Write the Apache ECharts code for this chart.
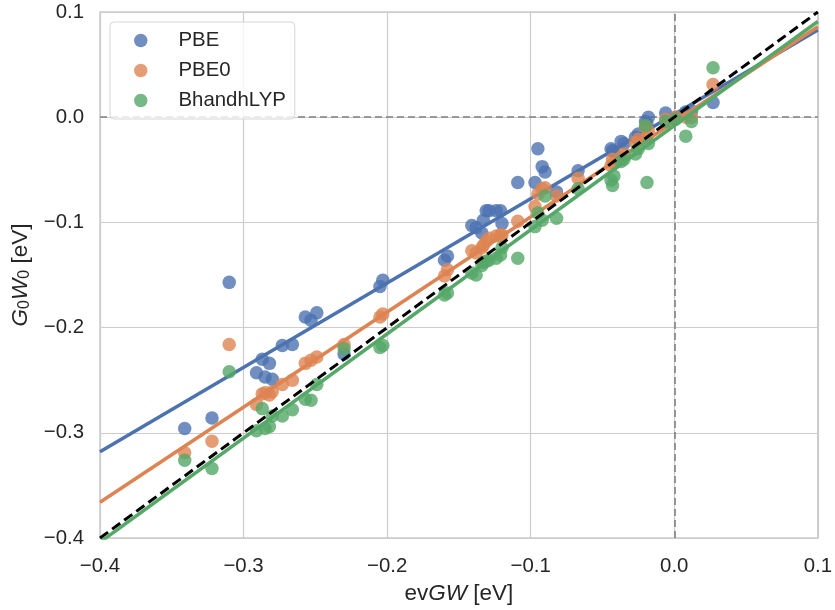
<!DOCTYPE html>
<html>
<head>
<meta charset="utf-8">
<script src="https://cdn.jsdelivr.net/npm/echarts@6/dist/echarts.min.js"></script>
<style>html,body{margin:0;padding:0;background:#fff}#c{width:835px;height:610px}</style>
</head>
<body>
<div id="c"></div>
<script>
// evGW values (shared x for all functionals)
const evgw = [-0.341,-0.322,-0.310,-0.291,-0.287,-0.285,-0.282,-0.280,-0.273,-0.266,
  -0.257,-0.253,-0.249,-0.230,-0.205,-0.203,-0.160,-0.158,-0.141,-0.138,
  -0.134,-0.133,-0.131,-0.129,-0.124,-0.121,-0.120,-0.109,-0.097,-0.095,
  -0.092,-0.090,-0.082,-0.067,-0.044,-0.043,-0.042,-0.037,-0.035,-0.027,
  -0.025,-0.020,-0.019,-0.018,-0.006,0.001,0.008,0.012,0.027];
const pbe = [-0.296,-0.286,-0.157,-0.243,-0.230,-0.247,-0.234,-0.249,-0.217,-0.216,
  -0.190,-0.193,-0.186,-0.225,-0.161,-0.155,-0.136,-0.132,-0.103,-0.105,
  -0.110,-0.098,-0.089,-0.089,-0.089,-0.089,-0.101,-0.062,-0.062,-0.030,
  -0.047,-0.052,-0.071,-0.051,-0.030,-0.032,-0.033,-0.023,-0.025,-0.019,
  -0.016,-0.004,-0.007,0.000,0.004,0.000,0.005,0.006,0.014];
const pbe0 = [-0.319,-0.308,-0.216,-0.273,-0.263,-0.262,-0.264,-0.261,-0.254,-0.250,
  -0.234,-0.231,-0.228,-0.216,-0.190,-0.187,-0.151,-0.145,-0.127,-0.129,
  -0.124,-0.122,-0.118,-0.115,-0.113,-0.112,-0.112,-0.099,-0.085,-0.073,
  -0.068,-0.067,-0.075,-0.058,-0.046,-0.040,-0.044,-0.038,-0.035,-0.024,
  -0.021,-0.009,-0.019,-0.013,-0.002,0.000,0.000,0.000,0.031];
const bhandhlyp = [-0.326,-0.334,-0.242,-0.298,-0.277,-0.296,-0.294,-0.284,-0.284,-0.278,
  -0.268,-0.269,-0.254,-0.220,-0.219,-0.217,-0.169,-0.167,-0.148,-0.150,
  -0.141,-0.138,-0.137,-0.136,-0.134,-0.131,-0.124,-0.134,-0.104,-0.091,
  -0.098,-0.075,-0.096,-0.068,-0.060,-0.065,-0.056,-0.042,-0.040,-0.035,
  -0.030,-0.008,-0.062,-0.025,-0.004,-0.002,-0.018,-0.004,0.047];
// regression lines: values at x=-0.4 and x=0.1
const fitX = [-0.4, 0.1];
const fitPBE = [-0.318, 0.083];
const fitPBE0 = [-0.366, 0.086];
const fitBH = [-0.404, 0.091];
const identity = [-0.4, 0.1];
const xTicks = [-0.4, 0.1, 0.1];   // min, max, interval
const yTicks = [-0.4, 0.1, 0.1];

const names = ['PBE','PBE0','BhandhLYP'];
const colors = ['#4C72B0','#DD8452','#55A868'];
const ys = [pbe, pbe0, bhandhlyp];
const fits = [fitPBE, fitPBE0, fitBH];
const FONT = 'Liberation Sans';
const TXT = '#262626';

function fmt(v){ if (Math.abs(v) < 1e-9) return '0.0'; return (v<0?'\u2212':'') + Math.abs(v).toFixed(1); }

const series = [];
names.forEach((n,i)=>{
  series.push({
    name: n, type: 'scatter', symbolSize: 13.5,
    itemStyle: {color: colors[i], opacity: 0.8},
    data: evgw.map((x,k)=>[x, ys[i][k]]),
    z: 3 + i*2
  });
  series.push({
    name: n + '_fit', type: 'line', showSymbol: false, symbol: 'none',
    lineStyle: {color: colors[i], width: 3.5}, silent: true,
    data: fitX.map((x,k)=>[x, fits[i][k]]),
    z: 4 + i*2
  });
});
series.push({
  type: 'line', name: 'identity', symbol: 'none', silent: true,
  lineStyle: {color: '#000', width: 3, type: [10,5]},
  data: fitX.map((x,k)=>[x, identity[k]]), z: 10,
  markLine: {
    silent: true, symbol: 'none', label: {show: false}, z: 1,
    lineStyle: {color: '#808080', width: 1.6, type: [7,4]},
    data: [{xAxis: 0}, {yAxis: 0}]
  }
});

const chart = echarts.init(document.getElementById('c'), null, {renderer: 'canvas'});
chart.setOption({
  animation: false,
  backgroundColor: '#fff',
  grid: {left: 100, right: 15, top: 12, bottom: 67, show: true, borderColor: '#cccccc', borderWidth: 1.5, containLabel: false},
  legend: {
    data: names, orient: 'vertical', left: 110, top: 22,
    padding: [7, 9, 7, 24], itemGap: 7, itemWidth: 13.5, itemHeight: 13.5, icon: 'circle',
    backgroundColor: 'rgba(255,255,255,0.8)', borderColor: '#d6d6d6', borderWidth: 1, borderRadius: 4,
    textStyle: {fontFamily: FONT, fontSize: 20.4, color: TXT, padding: [0,0,0,26], lineHeight: 23}
  },
  xAxis: {
    type: 'value', min: xTicks[0], max: xTicks[1], interval: xTicks[2],
    axisLine: {show: false}, axisTick: {show: false},
    splitLine: {show: true, lineStyle: {color: '#cccccc', width: 1.2}},
    axisLabel: {formatter: fmt, fontFamily: FONT, fontSize: 20.4, color: TXT, margin: 18},
    name: '{n|ev}{i|GW}{n| [eV]}', nameLocation: 'middle', nameGap: 44,
    nameTextStyle: {rich: {
      n: {fontFamily: FONT, fontSize: 22.5, color: TXT},
      i: {fontFamily: FONT, fontSize: 22.5, fontStyle: 'italic', color: TXT}
    }}
  },
  yAxis: {
    type: 'value', min: yTicks[0], max: yTicks[1], interval: yTicks[2],
    axisLine: {show: false}, axisTick: {show: false},
    splitLine: {show: true, lineStyle: {color: '#cccccc', width: 1.2}},
    axisLabel: {formatter: fmt, fontFamily: FONT, fontSize: 20.4, color: TXT, margin: 16},
    name: '{i|G}{s|0}{i|W}{s|0}{n| [eV]}', nameLocation: 'middle', nameGap: 61, nameRotate: 90,
    nameTextStyle: {rich: {
      n: {fontFamily: FONT, fontSize: 22.5, color: TXT},
      i: {fontFamily: FONT, fontSize: 22.5, fontStyle: 'italic', color: TXT},
      s: {fontFamily: FONT, fontSize: 16, color: TXT, padding: [9,0,0,0]}
    }}
  },
  series: series
});
</script>
</body>
</html>
